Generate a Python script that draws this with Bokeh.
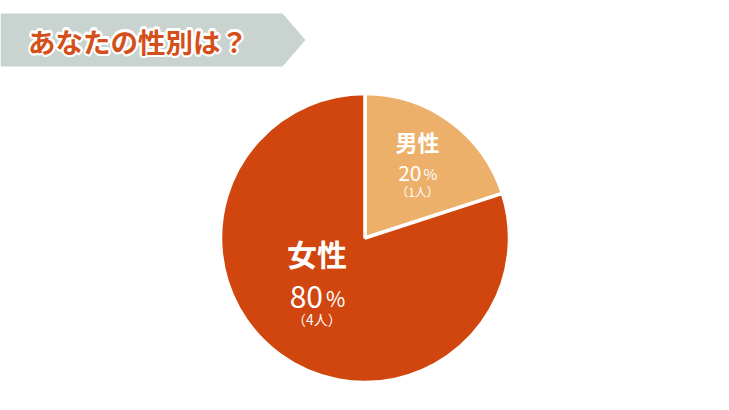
import math
from bokeh.plotting import figure
from bokeh.models import Range1d, ColumnDataSource
from bokeh.core.properties import value
from bokeh.embed import file_html
from bokeh.resources import INLINE

# ---- data ----
title_text = "あなたの性別は？"
categories = ["男性", "女性"]
counts = [1, 4]
percent_labels = ["20", "80"]
count_labels = ["（1人）", "（4人）"]
colors = ["#edb06b", "#d0460e"]

W, H = 713, 394
FONT = "Noto Sans CJK JP"

p = figure(width=W, height=H, output_backend="svg", toolbar_location=None,
           x_range=Range1d(0, W), y_range=Range1d(410 - H, 410),
           min_border=0, outline_line_color=None)
p.axis.visible = False
p.grid.visible = False
p.background_fill_color = "white"
p.border_fill_color = "white"

def Y(py):
    return 410 - py

# ---- title banner ----
bx = [0, 282, 305, 282, 0]
by = [Y(13), Y(13), Y(39.5), Y(66), Y(66)]
p.patch(bx, by, fill_color="#c9d4d0", line_color=None)

tx, ty = 137.5, Y(40)
for k in range(16):
    a = 2 * math.pi * k / 16
    p.text(x=[tx + 2.2 * math.cos(a)], y=[ty + 2.2 * math.sin(a)], text=[title_text],
           text_font=value(FONT), text_font_size="27.5px", text_font_style="bold",
           text_color="white", text_align="center", text_baseline="middle")
p.text(x=[tx], y=[ty], text=[title_text], text_font=value(FONT), text_font_size="27.5px",
       text_font_style="bold", text_color="#d4501a", text_align="center", text_baseline="middle")

# ---- pie ----
cx, cy, R = 364.5, Y(237.5), 144.5
total = sum(counts)
cur = math.pi / 2
starts, ends, mids = [], [], []
for c in counts:
    ang = c / total * 2 * math.pi
    starts.append(cur - ang)
    ends.append(cur)
    mids.append(cur - ang / 2)
    cur -= ang

src = ColumnDataSource(dict(start=starts, end=ends, color=colors))
p.wedge(x=cx, y=cy, radius=R, start_angle="start", end_angle="end", source=src,
        fill_color="color", line_color="white", line_width=3.5)

# label layout per slice
styles = [
    dict(dist=0.59, nudge=-2, name="22px", pct="21px", pc="15px", cnt="12px", off=(-30, 2, 21), gap=(4, 6)),
    dict(dist=0.47, nudge=-9, name="30px", pct="30px", pc="21px", cnt="14px", off=(-33, 11, 33), gap=(6, 9)),
]
for i, st in enumerate(styles):
    a = mids[i] + math.radians(st["nudge"])
    lx = cx + st["dist"] * R * math.cos(a)
    ly = cy + st["dist"] * R * math.sin(a)
    p.text(x=[lx], y=[ly - st["off"][0]], text=[categories[i]], text_font=value(FONT),
           text_font_size=st["name"], text_font_style="bold", text_color="white",
           text_align="center", text_baseline="middle")
    p.text(x=[lx + st["gap"][0]], y=[ly - st["off"][1]], text=[percent_labels[i]], text_font=value(FONT),
           text_font_size=st["pct"], text_color="white", text_align="right", text_baseline="middle")
    p.text(x=[lx + st["gap"][1]], y=[ly - st["off"][1] - 1], text=["%"], text_font=value(FONT),
           text_font_size=st["pc"], text_color="white", text_align="left", text_baseline="middle")
    p.text(x=[lx], y=[ly - st["off"][2]], text=[count_labels[i]], text_font=value(FONT),
           text_font_size=st["cnt"], text_color="white", text_align="center", text_baseline="middle")

open("out.html", "w").write(file_html(p, INLINE))
